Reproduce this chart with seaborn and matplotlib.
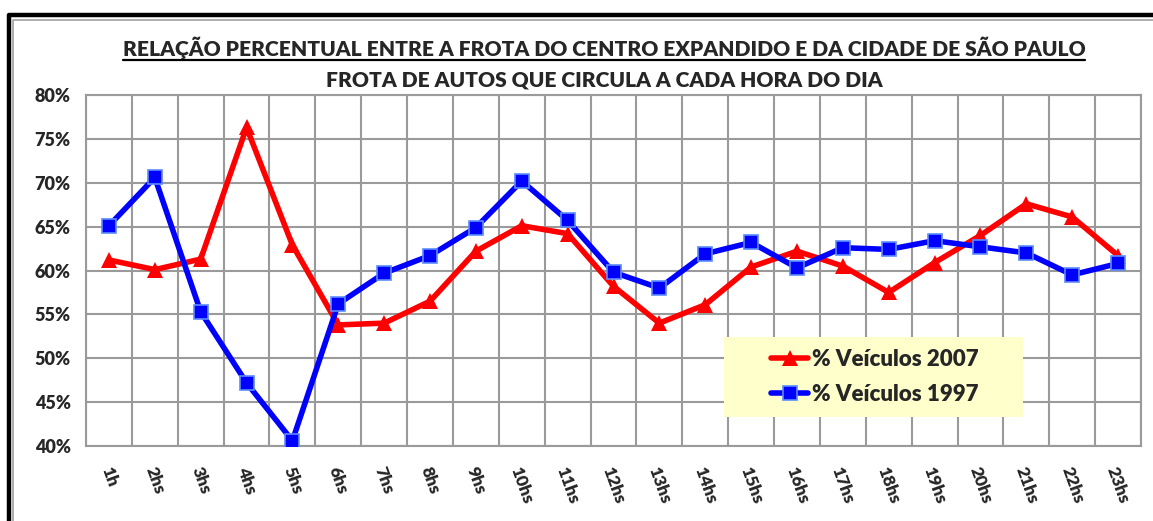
import numpy as np
import pandas as pd
import seaborn as sns
import matplotlib.pyplot as plt
from matplotlib.lines import Line2D
from matplotlib.patches import Rectangle
from matplotlib.ticker import FixedLocator, FuncFormatter

hours = ['1h', '2hs', '3hs', '4hs', '5hs', '6hs', '7hs', '8hs', '9hs', '10hs', '11hs', '12hs',
         '13hs', '14hs', '15hs', '16hs', '17hs', '18hs', '19hs', '20hs', '21hs', '22hs', '23hs']
veic_2007 = [61.2, 60.1, 61.3, 76.3, 62.9, 53.8, 54.0, 56.5, 62.2, 65.1, 64.2, 58.2,
             54.0, 56.1, 60.4, 62.2, 60.5, 57.5, 60.9, 64.0, 67.6, 66.1, 61.7]
veic_1997 = [65.1, 70.6, 55.3, 47.2, 40.6, 56.2, 59.7, 61.7, 64.9, 70.2, 65.7, 59.8,
             58.0, 61.9, 63.2, 60.3, 62.6, 62.4, 63.4, 62.7, 62.0, 59.5, 60.8]
title1 = 'RELAÇÃO PERCENTUAL ENTRE A FROTA DO CENTRO EXPANDIDO E DA CIDADE DE SÃO PAULO'
title2 = 'FROTA DE AUTOS QUE CIRCULA A CADA HORA DO DIA'

sns.set_style('white')
plt.rcParams['font.family'] = ['Lato', 'DejaVu Sans']

W, H = 1153, 521
fig = plt.figure(figsize=(W / 100, H / 100), dpi=100)
ax = fig.add_axes([86 / W, 1 - 446 / H, (1141 - 86) / W, (446 - 95) / H])

grid_c = '#9a9a9a'
wt = 'heavy'

# Series (1997 drawn on top, like the original)
sns.lineplot(x=hours, y=veic_2007, color='#ff0000', lw=4, marker='^', markersize=12,
             markeredgecolor='#ff0000', markeredgewidth=0, sort=False, ax=ax,
             label='% Veículos 2007', zorder=3)
sns.lineplot(x=hours, y=veic_1997, color='#0000ff', lw=4, marker='s', markersize=10,
             markeredgecolor='#5b8cff', markeredgewidth=1.2, sort=False, ax=ax,
             label='% Veículos 1997', zorder=4)

# Axes formatting
ax.set_xlim(-0.5, len(hours) - 0.5)
ax.set_ylim(40, 80)
ax.set_yticks(np.arange(40, 81, 5))
ax.yaxis.set_major_formatter(FuncFormatter(lambda v, p: '%d%%' % v))
ax.xaxis.set_minor_locator(FixedLocator(np.arange(-0.5, len(hours), 1)))
ax.grid(True, which='major', axis='y', color=grid_c, lw=1.5)
ax.grid(True, which='minor', axis='x', color=grid_c, lw=1.5)
ax.grid(False, which='major', axis='x')
ax.set_axisbelow(True)
for s in ax.spines.values():
    s.set_color(grid_c)
    s.set_linewidth(1.5)
ax.tick_params(axis='y', length=6, width=1.5, color=grid_c, labelsize=13, pad=5)
ax.tick_params(axis='x', which='major', length=0, labelsize=12.5, pad=13)
ax.tick_params(axis='x', which='minor', length=6, width=1.5, color=grid_c)
for lab in ax.get_xticklabels():
    lab.set_rotation(-70)
    lab.set_ha('center')
    lab.set_va('top')
for lab in ax.get_xticklabels() + ax.get_yticklabels():
    lab.set_fontweight(wt)
ax.set_xlabel('')
ax.set_ylabel('')

# Legend with a light yellow box behind it
fig.add_artist(Rectangle((724 / W, 1 - 417 / H), (1023 - 724) / W, 80 / H,
                         transform=fig.transFigure, facecolor='#ffffcc',
                         edgecolor='none', zorder=5))
leg = ax.legend(loc='center', bbox_to_anchor=(874.5 / W, 1 - 377 / H),
                bbox_transform=fig.transFigure, frameon=False,
                prop={'weight': wt, 'size': 16}, handlelength=1.7,
                handletextpad=0.15, labelspacing=0.65, borderaxespad=0)
leg.set_zorder(6)
fig.add_artist(leg)

# Titles
t1 = fig.text(604 / W, 1 - 47.5 / H, title1, ha='center', va='center',
              fontsize=15.1, fontweight=wt)
fig.text(604 / W, 1 - 80 / H, title2, ha='center', va='center',
         fontsize=15.1, fontweight=wt)
fig.canvas.draw()
bb = t1.get_window_extent()
uy = (H - 59.5) / H
fig.add_artist(Line2D([bb.x0 / W, bb.x1 / W], [uy, uy], color='black', lw=1.6,
                      transform=fig.transFigure))

# Outer chart frame (cropped shadow box)
fig.add_artist(Line2D([9 / W, 9 / W, 1.01], [-0.01, 1 - 15 / H, 1 - 15 / H],
                      color='black', lw=3.2, transform=fig.transFigure,
                      solid_capstyle='projecting'))
fig.add_artist(Line2D([13 / W, 13 / W, 1.01], [-0.01, 1 - 19.5 / H, 1 - 19.5 / H],
                      color='#a0a0a0', lw=1.2, transform=fig.transFigure))

fig.savefig('out.png', dpi=100)
